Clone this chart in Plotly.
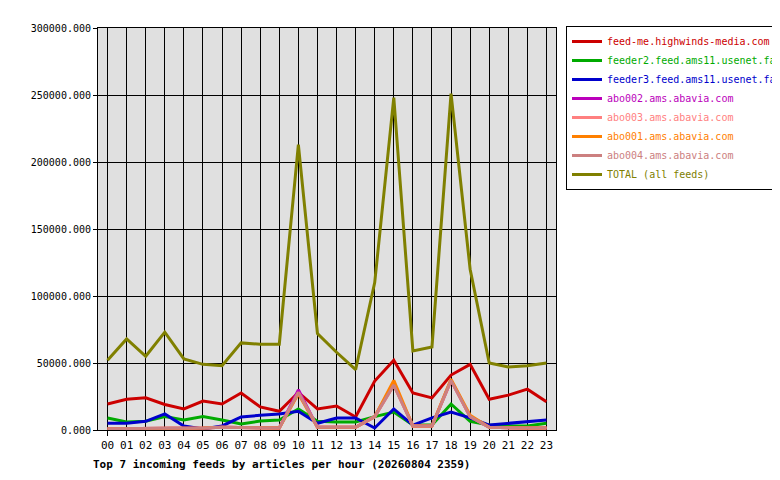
import plotly.graph_objects as go

hours = [f"{h:02d}" for h in range(24)]
feed_me = [19400,23000,24000,19000,15700,21600,19400,27600,17200,14000,28000,15700,17900,9700,36500,52000,27600,24000,41000,49000,23000,26000,30500,21000]
feeder2 = [9000,6000,6500,10000,7500,10000,7500,4500,6700,7500,15700,6500,6000,6000,10000,13400,3700,3700,19400,6500,3700,3000,3000,5000]
feeder3 = [5000,5000,6500,12000,3000,800,3000,9700,11000,12000,14000,5000,9000,9000,1500,15700,3700,9000,13400,9000,3700,5000,6500,7500]
abo002 = [1000,1000,1000,1500,1500,1500,2000,2000,2000,1500,30000,2000,2000,2000,10000,34000,3000,3000,37000,10000,2000,1500,1500,1500]
abo003 = [1000,1000,1000,1500,1500,1500,2000,2000,2000,1500,28000,2000,2000,2000,10000,33500,3000,3000,37000,10000,2000,1500,1500,1500]
abo001 = [1000,1000,1000,1500,1500,1500,2000,2000,2000,1500,27000,2000,2000,2000,10000,37000,3000,3000,38000,11000,2000,1500,1500,1500]
abo004 = [1000,1000,1000,1500,1500,1500,2000,2000,2000,1500,28000,2000,2000,2000,10000,33500,3000,3000,37000,10000,2000,1500,1500,1500]
total = [52000,68000,55000,73000,53000,49000,48000,65000,64000,64000,213000,72000,58000,45000,110000,248000,59000,62000,251000,120000,50000,47000,48000,50000]

series = [
    ("feed-me.highwinds-media.com", feed_me, "#cc0000"),
    ("feeder2.feed.ams11.usenet.farm", feeder2, "#00aa00"),
    ("feeder3.feed.ams11.usenet.farm", feeder3, "#0000cc"),
    ("abo002.ams.abavia.com", abo002, "#bb00bb"),
    ("abo003.ams.abavia.com", abo003, "#ff8080"),
    ("abo001.ams.abavia.com", abo001, "#ff8000"),
    ("abo004.ams.abavia.com", abo004, "#cc8080"),
    ("TOTAL (all feeds)", total, "#808000"),
]

font = "DejaVu Sans Mono"
fig = go.Figure()
for name, vals, col in series:
    fig.add_trace(go.Scatter(x=hours, y=vals,
                             name=f"<span style='color:{col}'>{name}</span>",
                             mode="lines", line=dict(color=col, width=3)))

W = 780 - 90 - 8
fig.update_layout(
    width=780, height=480,
    margin=dict(l=90, r=8, t=20, b=58, autoexpand=False),
    paper_bgcolor="white", plot_bgcolor="#e0e0e0",
    font=dict(family=font, size=10, color="black"),
    showlegend=True,
    legend=dict(x=(558 - 90) / W, y=1.005, xanchor="left", yanchor="top",
                bordercolor="black", borderwidth=1, bgcolor="white",
                font=dict(family=font, size=10), tracegroupgap=0,
                itemwidth=30),
    annotations=[dict(text="<b>Top 7 incoming feeds by articles per hour (20260804 2359)</b>",
                      xref="paper", yref="paper", x=-0.01, y=-0.065,
                      xanchor="left", yanchor="top", showarrow=False,
                      font=dict(family=font, size=11))],
)
fig.update_xaxes(type="category", domain=[0, 458 / W],
                 showgrid=True, gridcolor="black", gridwidth=1,
                 ticks="outside", ticklen=5, tickcolor="black",
                 showline=True, linecolor="black", mirror=True,
                 range=[-0.5, 23.5], tickfont=dict(size=11))
fig.update_yaxes(range=[0, 300000], dtick=50000, tickformat=".3f",
                 showgrid=True, gridcolor="black", gridwidth=1,
                 ticks="outside", ticklen=4, tickcolor="black",
                 showline=True, linecolor="black", mirror=True, zeroline=False,
                 tickfont=dict(size=10))
fig.write_html("out.html")
